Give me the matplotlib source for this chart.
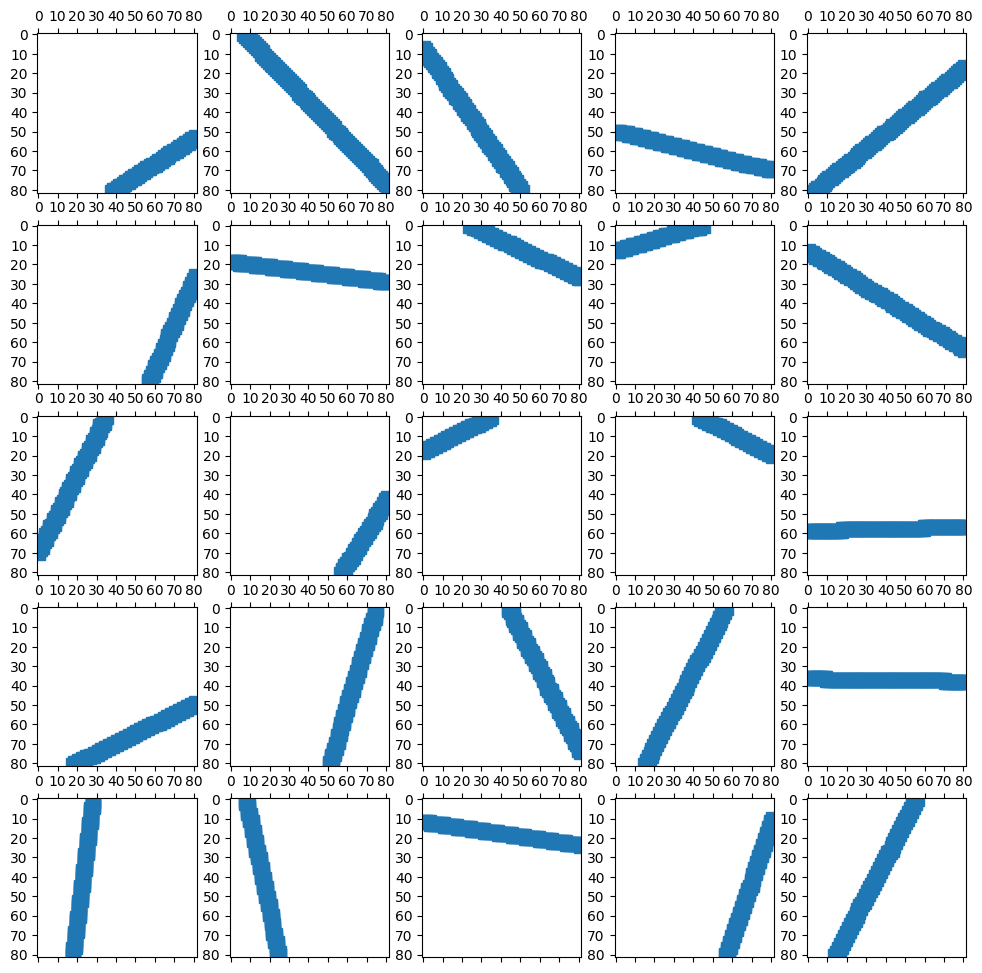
import numpy as np
import matplotlib
matplotlib.use("Agg")
import matplotlib.pyplot as plt

# Image size (pixels per side) of every panel
IMG_SIZE = 82

# Line end points (column, row) of the single line drawn in each of the 25 panels
x_start = [38, 7, 0, 0, 3,
           57, 0, 24, 0, 0,
           35, 57, 0, 43, 0,
           18, 51, 44, 15, 0,
           28, 8, 0, 57, 56]
y_start = [81, 0, 7, 50, 81,
           81, 19, 0, 13, 13,
           0, 81, 18, 0, 58.9,
           81, 81, 0, 81, 36.34,
           0, 0, 12, 81, 0]
x_end = [81, 81, 51, 81, 81,
         81, 81, 81, 45, 81,
         0, 81, 35, 81, 81,
         81, 75, 81, 57, 81,
         18, 25, 81, 81, 14]
y_end = [53, 78, 81, 70, 17,
         26, 29, 27, 0, 64,
         70, 42, 0, 20, 57.0,
         49, 0, 74, 0, 37.67,
         81, 81, 23.5, 10, 81]


def line_image(x0, y0, x1, y1, size):
    img = np.zeros((size, size))
    n = int(max(abs(x1 - x0), abs(y1 - y0))) + 1
    xs = np.clip(np.round(np.linspace(x0, x1, n)).astype(int), 0, size - 1)
    ys = np.clip(np.round(np.linspace(y0, y1, n)).astype(int), 0, size - 1)
    img[ys, xs] = 1
    return img


fig, axes = plt.subplots(5, 5, figsize=(12, 12))
for i, ax in enumerate(axes.flat):
    img = line_image(x_start[i], y_start[i], x_end[i], y_end[i], IMG_SIZE)
    ax.spy(img, markersize=10.5)

fig.savefig("out.png", bbox_inches="tight")
